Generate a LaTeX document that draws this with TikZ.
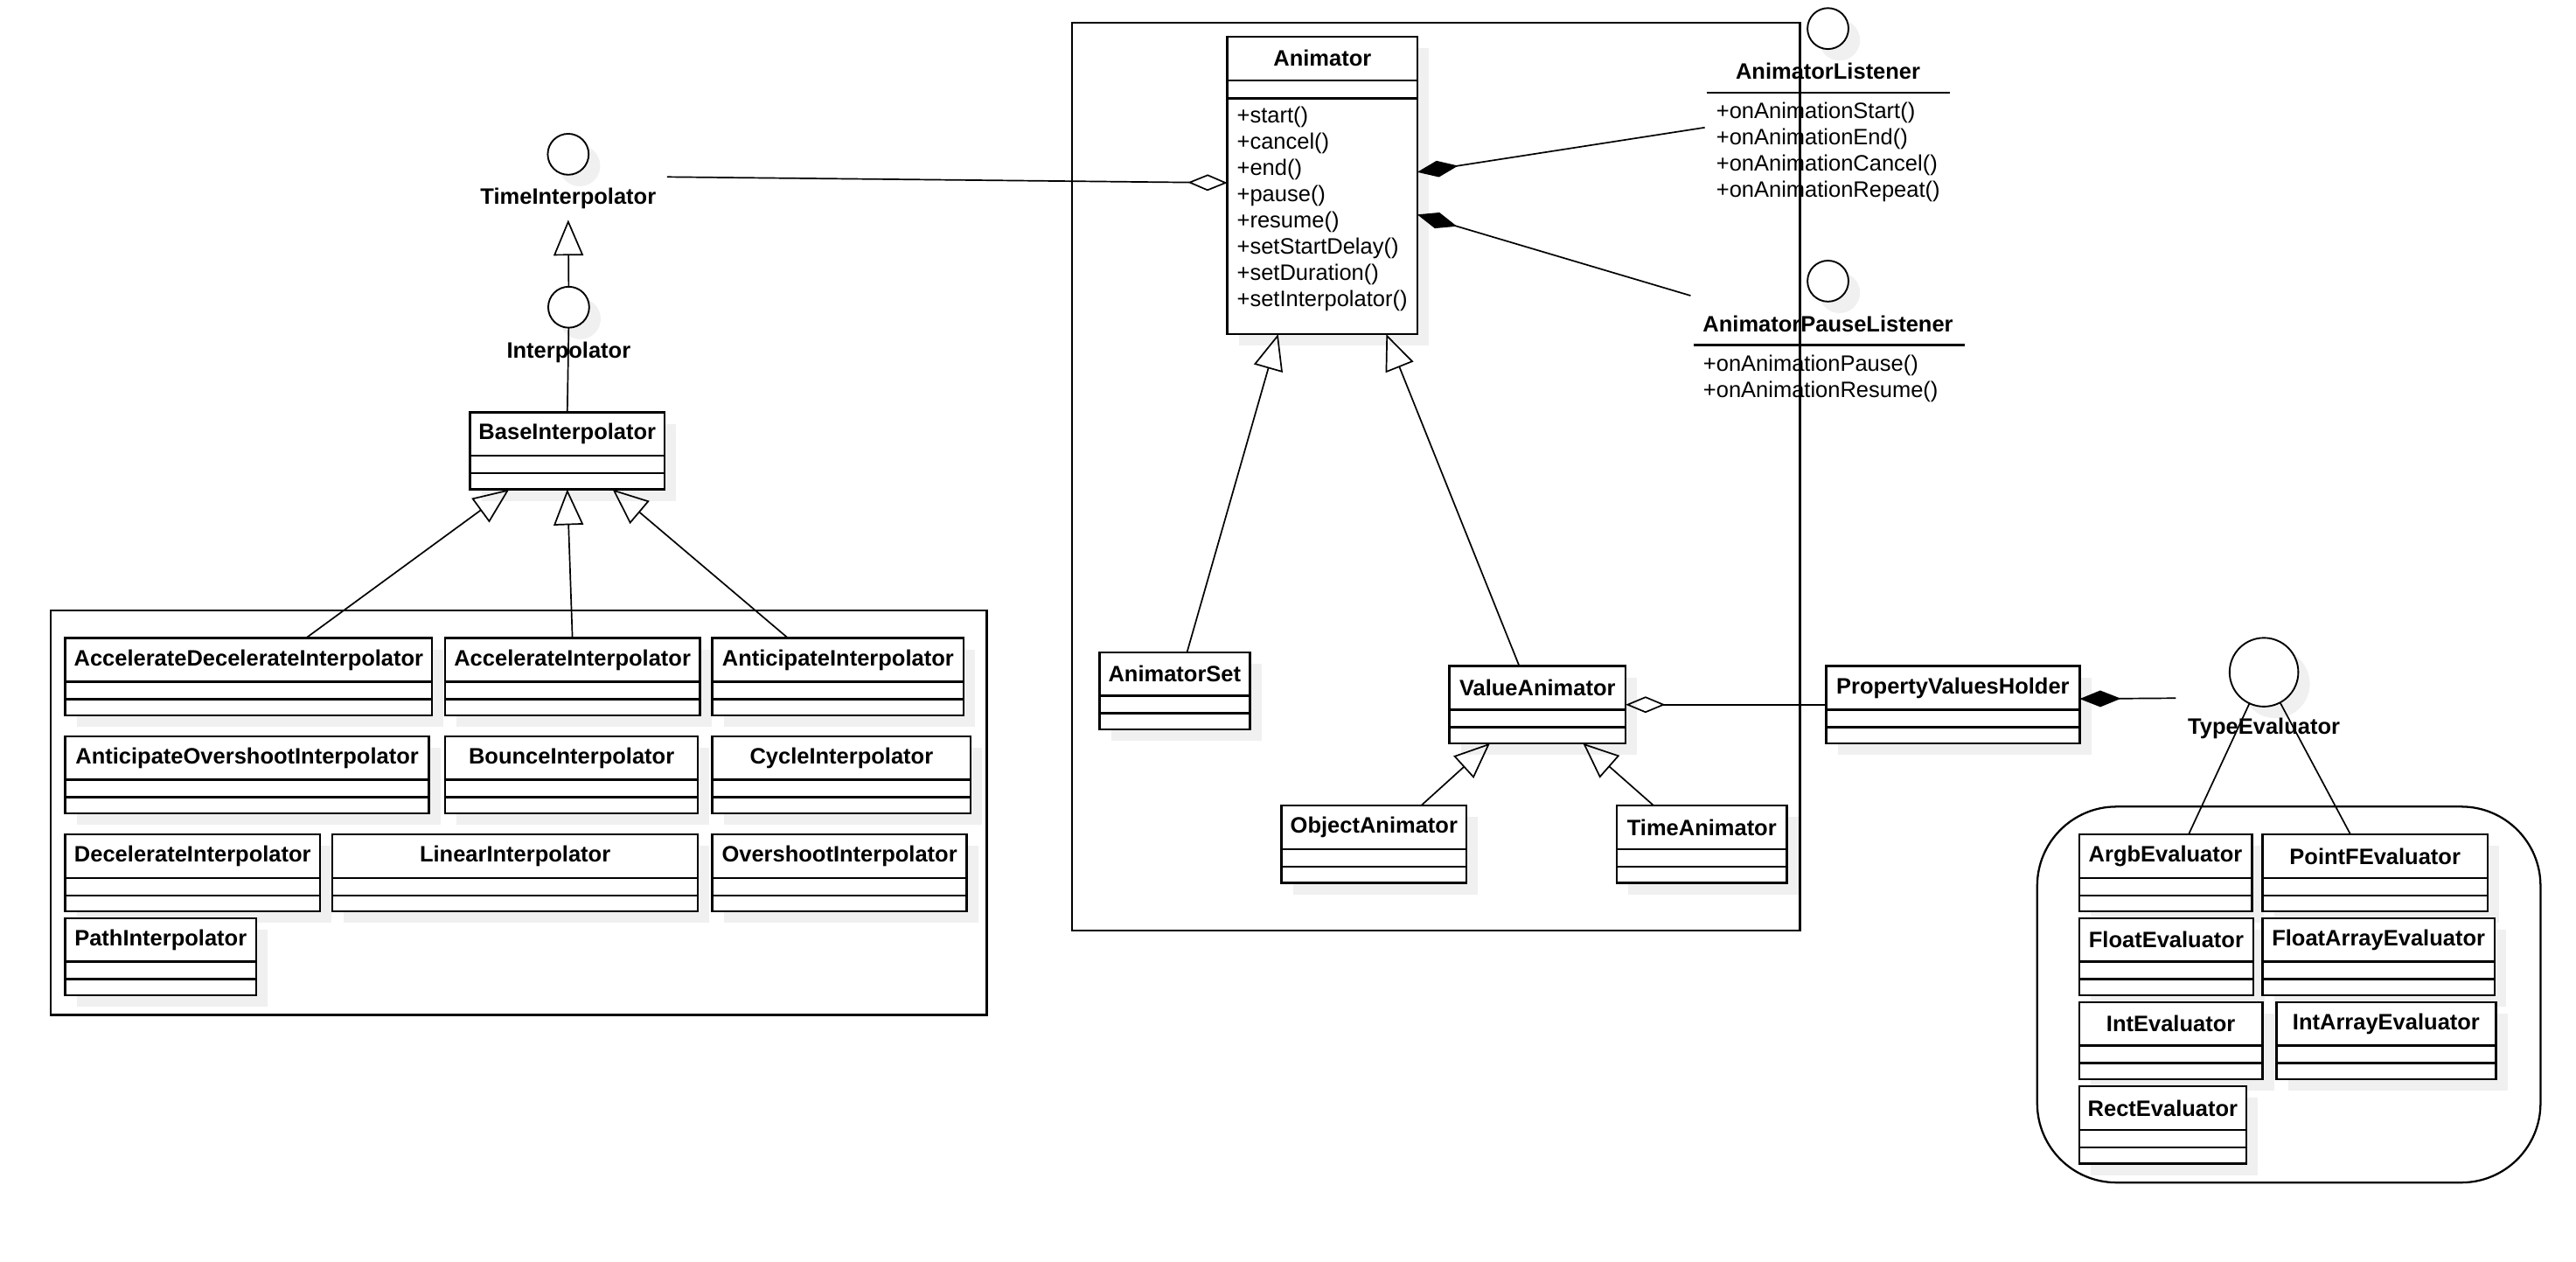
\documentclass[tikz,border=0pt]{standalone}
\usepackage{fontspec}
\setmainfont{Liberation Sans}
\usetikzlibrary{arrows.meta,shadows}

\begin{document}
\begin{tikzpicture}
  [x=1pt,y=-1pt,
   every node/.style={font=\fontsize{13.5}{15.9}\selectfont},
   boxshadow/.style={drop shadow={shadow xshift=7pt,shadow yshift=-7pt,fill=black!6,opacity=1}},
   cls/.style={draw,line width=1.3pt,fill=white,inner sep=0pt,outer sep=0pt,minimum height=46.7pt,boxshadow},
   ctitle/.style={font=\fontsize{13.5}{15.9}\selectfont\bfseries,inner sep=0pt},
   iface/.style={circle,draw,line width=1pt,fill=white,inner sep=0pt,outer sep=0pt,minimum size=24.8pt,boxshadow},
   ilabel/.style={font=\fontsize{13.5}{15.9}\selectfont\bfseries,inner sep=6.5pt,anchor=base},
   meth/.style={inner sep=0pt,anchor=base west},
   pkgframe/.style={draw,line width=1.2pt},
   conn/.style={line width=0.9pt},
   gen/.style={conn,-{Triangle[open,length=21.6pt,width=18pt]}},
   agg/.style={conn,-{Diamond[open,length=24pt,width=10pt]}},
   comp/.style={conn,-{Diamond[length=25pt,width=10pt]}}]
  \useasboundingbox (0,0) rectangle (1560,763.6);

  % interfaces
  \node[iface] (ti) at (344.1,93.4) {};
  \node[ilabel] (ti-label) at (344.1,123.6) {TimeInterpolator};
  \node[iface] (ip) at (344.4,186) {};
  \node[ilabel] (ip-label) at (344.4,216.6) {Interpolator};
  \node[iface] (al) at (1107,17.3) {};
  \node[ilabel] (al-label) at (1107,48.1) {AnimatorListener};
  \node[iface] (apl) at (1107,170.2) {};
  \node[ilabel] (apl-label) at (1107,200.9) {AnimatorPauseListener};
  \node[iface,minimum size=41.6pt] (te) at (1371,407) {};
  \node[ilabel] (te-label) at (1371,444.7) {TypeEvaluator};

  \draw[line width=1.3pt] (1033.5,56.2) -- (1181,56.2);
  \draw[line width=1.3pt] (1025.7,208.8) -- (1189.7,208.8);
  \foreach \m [count=\i] in {Start,End,Cancel,Repeat}
    \node[meth] at (1039.2,{71.9+15.9*(\i-1)}) {+onAnimation\m()};
  \foreach \m [count=\i] in {Pause,Resume}
    \node[meth] at (1031.3,{225+15.9*(\i-1)}) {+onAnimation\m()};

  % Animator
  \node[cls,minimum width=115pt,minimum height=180.2pt] (anim) at (800.8,112.2) {};
  \node[ctitle] at (800.8,35.4) {Animator};
  \draw[line width=1.3pt] (743.3,48.6) -- (858.3,48.6) (743.3,59.5) -- (858.3,59.5);
  \foreach \m [count=\i] in {start,cancel,end,pause,resume,setStartDelay,setDuration,setInterpolator}
    \node[meth] at (748.9,{74.5+15.9*(\i-1)}) {+\m()};

  % classes
  \foreach \n/\xa/\xb/\ya/\t in {
      base/284.6/402.5/249.6/BaseInterpolator,
      adi/39.5/261.7/386.4/AccelerateDecelerateInterpolator,
      ai/269.5/423.8/386.4/AccelerateInterpolator,
      anti/431.3/583.6/386.4/AnticipateInterpolator,
      aoi/39.5/259.8/445.8/AnticipateOvershootInterpolator,
      bi/269.5/422.7/445.8/BounceInterpolator,
      ci/431.3/587.9/445.8/CycleInterpolator,
      di/39.5/193.8/505.2/DecelerateInterpolator,
      li/201.2/422.7/505.2/LinearInterpolator,
      oi/431.3/585.5/505.2/OvershootInterpolator,
      pi/39.5/155.1/555.9/PathInterpolator,
      aset/665.8/756.9/394.9/AnimatorSet,
      va/877.6/984.5/403.3/ValueAnimator,
      oa/776/888.1/487.8/ObjectAnimator,
      ta/979.2/1082/487.8/TimeAnimator,
      pvh/1105.9/1259.4/403.3/PropertyValuesHolder,
      argb/1259.1/1363.7/505.2/ArgbEvaluator,
      pointf/1370.1/1506.5/505.2/PointFEvaluator,
      flt/1259.1/1364.6/556/FloatEvaluator,
      fltarr/1370.1/1510.7/556/FloatArrayEvaluator,
      int/1259.1/1370.1/606.8/IntEvaluator,
      intarr/1378.6/1511.5/606.8/IntArrayEvaluator,
      rect/1259.1/1360.4/657.8/RectEvaluator}
  {
    \node[cls,minimum width={(\xb-\xa)*1pt}] (\n) at ({(\xa+\xb)/2},{\ya+23.35}) {};
    \node[ctitle] at ({(\xa+\xb)/2},{\ya+13.15}) {\t};
    \draw[line width=1.3pt] (\xa,{\ya+26.3}) -- (\xb,{\ya+26.3}) (\xa,{\ya+36.9}) -- (\xb,{\ya+36.9});
  }

  % packages
  \draw[pkgframe] (649.3,13.6) rectangle (1090,563.3);
  \draw[pkgframe] (30.9,369.5) rectangle (597.5,614.5);
  \draw[pkgframe,rounded corners=48pt] (1233.7,488.4) rectangle (1538.5,716);

  % relations
  \coordinate (al-in) at (1032.4,77.2);
  \coordinate (apl-in) at (1023.8,179);
  \coordinate (te-in) at (1317.7,422.7);
  \draw[gen] (ip.north) -- (ti-label.south);
  \draw[conn] (ip.south) -- (base.north);
  \draw[agg] (ti-label.north east) -- ([yshift=1.5pt]anim.west);
  \draw[comp] (al-in) -- ([yshift=8pt]anim.east);
  \draw[comp] (apl-in) -- ([yshift=-17.7pt]anim.east);
  \draw[agg] (pvh.west) -- (va.east);
  \draw[comp] (te-in) -- ([yshift=3.5pt]pvh.east);
  \foreach \from/\a/\b in {adi/34.6/-35.2,ai/0/0,anti/-30.2/27.4}
    \draw[gen] ([xshift=\a pt]\from.north) -- ([xshift=\b pt]base.south);
  \foreach \from/\a/\b in {aset/7.5/-26.8,va/-11/38.7}
    \draw[gen] ([xshift=\a pt]\from.north) -- ([xshift=\b pt]anim.south);
  \foreach \from/\a/\b in {oa/28.5/-28.75,ta/-29.1/27.55}
    \draw[gen] ([xshift=\a pt]\from.north) -- ([xshift=\b pt]va.south);
  \foreach \to/\a in {argb/14,pointf/-14.9}
    \draw[conn] (te) -- ([xshift=\a pt]\to.north);
\end{tikzpicture}
\end{document}
